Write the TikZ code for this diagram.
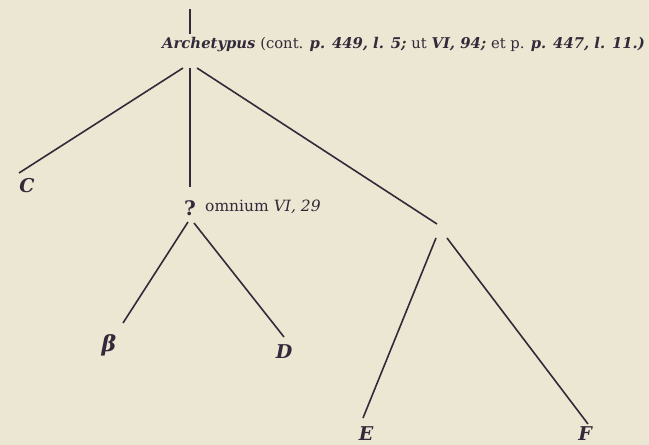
\documentclass[tikz,border=0pt]{standalone}
\usepackage{fontspec}
\setmainfont{DejaVu Serif}
\definecolor{paper}{RGB}{236,231,210}
\definecolor{ink}{RGB}{50,42,58}
\begin{document}
\begin{tikzpicture}[x=1pt,y=-1pt,
  edge/.style={draw=ink,line width=1.6pt},
  lab/.style={text=ink,inner sep=0pt,anchor=base,font=\fontsize{19}{21}\selectfont\bfseries\itshape},
  txt/.style={text=ink,inner sep=0pt,anchor=base west,font=\fontsize{14.8}{17}\selectfont}]
\fill[paper] (0,0) rectangle (649,445);
\useasboundingbox (0,0) rectangle (649,445);
% root text
\node[txt] (arch) at (162,48) {\textbf{\textit{Archetypus}} (cont. \textbf{\textit{p. 449, l. 5;}} ut \textbf{\textit{VI, 94;}} et p. \textbf{\textit{p. 447, l. 11.)}}};
\coordinate (top) at (190,9);
\coordinate (archtop) at (190,34);
\coordinate (aL) at (183,68);
\coordinate (aM) at (190,68);
\coordinate (aR) at (197,68);
% labels
\node[lab] (C) at (27,192) {C};
\node[text=ink,inner sep=0pt,anchor=base,font=\fontsize{20}{22}\selectfont\bfseries] (Q) at (190,215) {?};
\node[txt,font=\fontsize{15.5}{17}\selectfont] (omn) at (205,211) {omnium \textit{VI, 29}};
\node[lab,font=\fontsize{22}{24}\selectfont\bfseries\itshape] (B) at (109,351) {β};
\node[lab] (D) at (284,358) {D};
\node[lab] (E) at (366,440) {E};
\node[lab] (F) at (585,440) {F};
% line ends
\coordinate (Cend) at (19,173);
\coordinate (Qtop) at (190,187);
\coordinate (QL) at (188,222);
\coordinate (QR) at (194,223);
\coordinate (Bend) at (123,323);
\coordinate (Dend) at (284,337);
\coordinate (X) at (437,224);
\coordinate (XL) at (436,238);
\coordinate (XR) at (447,238);
\coordinate (Eend) at (363,418);
\coordinate (Fend) at (588,424);
% edges
\draw[edge] (top) -- (archtop);
\draw[edge] (aL) -- (Cend);
\draw[edge] (aM) -- (Qtop);
\draw[edge] (aR) -- (X);
\draw[edge] (QL) -- (Bend);
\draw[edge] (QR) -- (Dend);
\draw[edge] (XL) -- (Eend);
\draw[edge] (XR) -- (Fend);
\end{tikzpicture}
\end{document}
